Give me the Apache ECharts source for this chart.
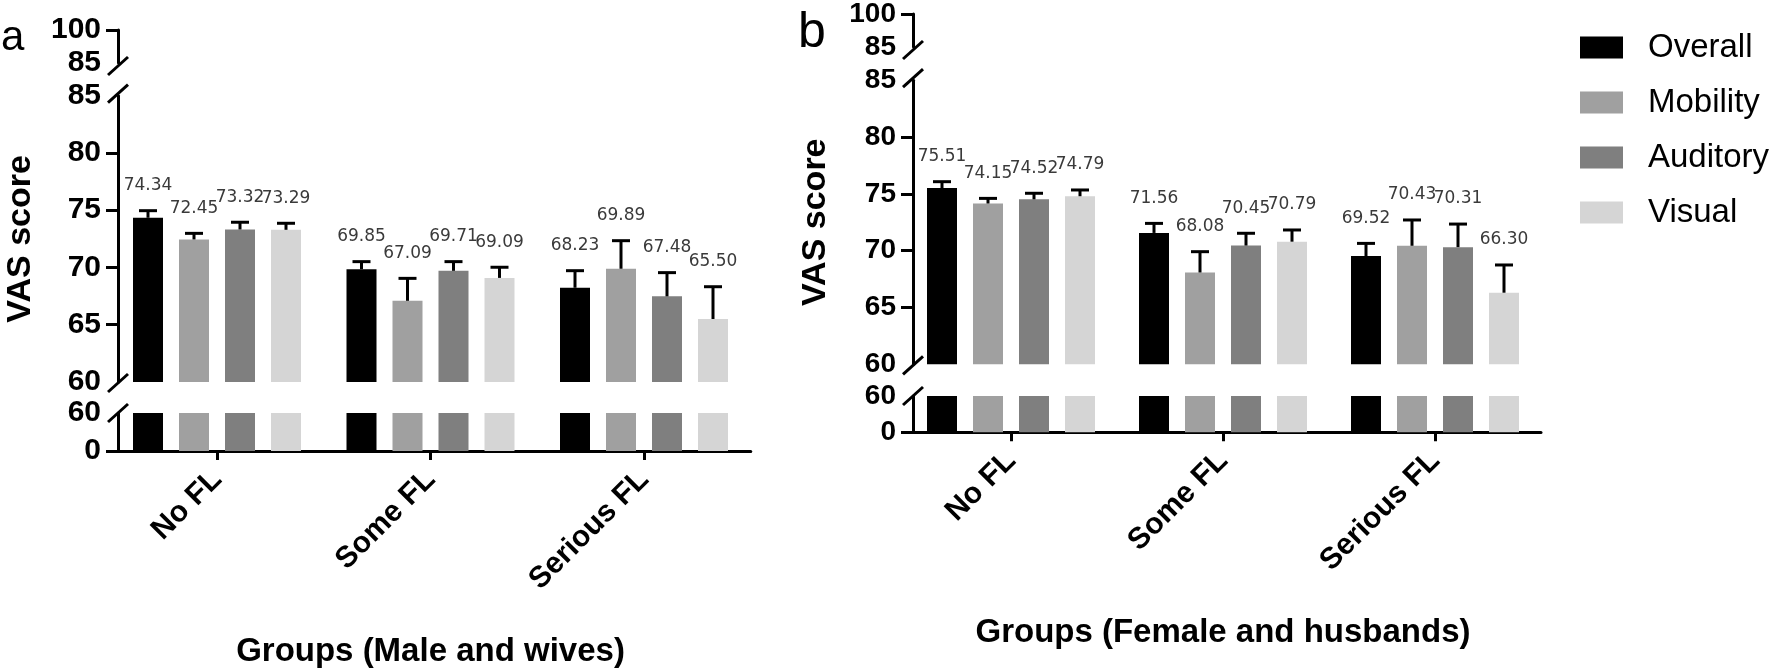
<!DOCTYPE html>
<html>
<head>
<meta charset="utf-8">
<script src="https://cdn.jsdelivr.net/npm/echarts@6/dist/echarts.min.js"></script>
<style>
  html, body { margin: 0; padding: 0; background: #fff; }
  #chart { width: 1770px; height: 671px; }
</style>
</head>
<body>
<div id="chart"></div>
<script>
// ---------------- DATA ----------------
const categories = ['No FL', 'Some FL', 'Serious FL'];
const seriesNames = ['Overall', 'Mobility', 'Auditory', 'Visual'];

// Panel a: Male and wives (means)
const maleOverall  = [74.34, 69.85, 68.23];
const maleMobility = [72.45, 67.09, 69.89];
const maleAuditory = [73.32, 69.71, 67.48];
const maleVisual   = [73.29, 69.09, 65.50];
// Panel a: error (upper bar length)
const maleOverallErr  = [0.62, 0.66, 1.49];
const maleMobilityErr = [0.53, 1.96, 2.45];
const maleAuditoryErr = [0.63, 0.80, 2.07];
const maleVisualErr   = [0.57, 0.93, 2.82];

// Panel b: Female and husbands (means)
const femaleOverall  = [75.51, 71.56, 69.52];
const femaleMobility = [74.15, 68.08, 70.43];
const femaleAuditory = [74.52, 70.45, 70.31];
const femaleVisual   = [74.79, 70.79, 66.30];
// Panel b: error
const femaleOverallErr  = [0.56, 0.84, 1.12];
const femaleMobilityErr = [0.45, 1.83, 2.27];
const femaleAuditoryErr = [0.53, 1.08, 2.03];
const femaleVisualErr   = [0.55, 1.03, 2.44];

// Tick labels of the broken axis segments
const topTickLabels = [85, 100];
const midTickLabels = [60, 65, 70, 75, 80, 85];
const botTickLabels = [0, 60];

const xTitleA = 'Groups (Male and wives)';
const xTitleB = 'Groups (Female and husbands)';
const yTitle = 'VAS score';

// ---------------- STYLE / LAYOUT ----------------
const colors = ['#000000', '#a0a0a0', '#7f7f7f', '#d5d5d5'];
const FONT = '"Liberation Sans", Arial, sans-serif';
const BAR_W = 30, BAR_GAP_PX = 16;

const panels = [
  { left: 110.25, width: 640.5, axisOffset: -7.75, tickFont: 30,
    top: [30, 33], mid: [95.7, 286.3], bot: [413, 38], title: xTitleA,
    values: [maleOverall, maleMobility, maleAuditory, maleVisual],
    errs: [maleOverallErr, maleMobilityErr, maleAuditoryErr, maleVisualErr] },
  { left: 905, width: 636, axisOffset: -8, tickFont: 28,
    top: [14, 33], mid: [80.2, 284.1], bot: [396, 36.3], title: xTitleB,
    values: [femaleOverall, femaleMobility, femaleAuditory, femaleVisual],
    errs: [femaleOverallErr, femaleMobilityErr, femaleAuditoryErr, femaleVisualErr] }
];

const grids = [], xAxes = [], yAxes = [], series = [];

function yAxisBase(p, gi, min, max, labels, ticks, interval) {
  const ax = {
    type: 'value', gridIndex: gi, min: min, max: max,
    offset: p.axisOffset,
    splitLine: { show: false },
    axisLine: { show: true, lineStyle: { color: '#000', width: 3 } },
    axisTick: { show: ticks.length > 0, length: 12, lineStyle: { color: '#000', width: 3 }, customValues: ticks },
    axisLabel: { customValues: labels, color: '#000', fontFamily: FONT, fontWeight: 'bold',
                 fontSize: p.tickFont, margin: 17 }
  };
  if (interval) ax.interval = interval;
  return ax;
}

function makeErrRender(k) {
  return function (params, api) {
    const ci = api.value(0), v = api.value(1), e = api.value(2);
    const base = api.coord([ci, v]);
    const top = api.coord([ci, v + e]);
    const x = base[0] + (k - 1.5) * (BAR_W + BAR_GAP_PX);
    return {
      type: 'group',
      children: [
        { type: 'line', shape: { x1: x, y1: base[1], x2: x, y2: top[1] },
          style: { stroke: '#000', lineWidth: 3 } },
        { type: 'line', shape: { x1: x - 9, y1: top[1], x2: x + 9, y2: top[1] },
          style: { stroke: '#000', lineWidth: 3 } },
        { type: 'text', x: x, y: top[1] - 25,
          style: { text: v.toFixed(2), fill: '#3a3a3a', fontSize: 17,
                   fontFamily: '"DejaVu Sans", sans-serif', align: 'center', verticalAlign: 'middle' } }
      ]
    };
  };
}

panels.forEach(function (p, pi) {
  const g0 = pi * 3;
  // grids: top, mid, bottom
  [p.top, p.mid, p.bot].forEach(function (tb) {
    grids.push({ left: p.left, width: p.width, top: tb[0], height: tb[1], containLabel: false });
  });
  // x axes
  for (let j = 0; j < 3; j++) {
    const isBottom = j === 2;
    xAxes.push({
      type: 'category', gridIndex: g0 + j, data: categories, show: isBottom,
      axisLine: { show: isBottom, lineStyle: { color: '#000', width: 3 } },
      axisTick: { show: isBottom, alignWithLabel: true, length: 9, lineStyle: { color: '#000', width: 3 } },
      axisLabel: { show: isBottom, rotate: 45, margin: 24, color: '#000', fontFamily: FONT,
                   fontWeight: 'bold', fontSize: 30, interval: 0 },
      name: isBottom ? p.title : '', nameLocation: 'middle', nameGap: 184,
      nameTextStyle: { color: '#000', fontFamily: FONT, fontWeight: 'bold', fontSize: 33 }
    });
  }
  // y axes
  yAxes.push(yAxisBase(p, g0, 85, 100, topTickLabels, [100], null));
  const mid = yAxisBase(p, g0 + 1, 60, 85, midTickLabels, [65, 70, 75, 80], 5);
  mid.name = yTitle; mid.nameLocation = 'middle'; mid.nameGap = 80;
  mid.nameTextStyle = { color: '#000', fontFamily: FONT, fontWeight: 'bold', fontSize: 34 };
  yAxes.push(mid);
  yAxes.push(yAxisBase(p, g0 + 2, 0, 60, botTickLabels, [0], 60));

  // series
  seriesNames.forEach(function (name, k) {
    [g0 + 1, g0 + 2].forEach(function (gi) {
      series.push({
        name: name, type: 'bar', xAxisIndex: gi, yAxisIndex: gi,
        data: p.values[k], barWidth: BAR_W, barGap: (BAR_GAP_PX / BAR_W * 100) + '%',
        itemStyle: { color: colors[k] }, silent: true, clip: true, z: 2
      });
    });
    series.push({
      name: name + ' error', type: 'custom', xAxisIndex: g0 + 1, yAxisIndex: g0 + 1,
      data: p.values[k].map(function (v, ci) { return [ci, v, p.errs[k][ci]]; }),
      renderItem: makeErrRender(k), clip: false, silent: true, z: 5
    });
  });
});

const chart = echarts.init(document.getElementById('chart'), null, { renderer: 'canvas' });
chart.setOption({
  animation: false,
  backgroundColor: '#ffffff',
  grid: grids, xAxis: xAxes, yAxis: yAxes, series: series,
  legend: {
    orient: 'vertical', left: 1575, top: 26, icon: 'rect',
    data: seriesNames, itemWidth: 43, itemHeight: 22, itemGap: 22,
    selectedMode: false,
    textStyle: { color: '#000', fontFamily: FONT, fontSize: 33, lineHeight: 33, padding: [0, 0, 0, 20] }
  }
});

// Break marks on the y axes and panel letters
const gfx = [];
function slash(x, y) {
  gfx.push({ type: 'line', shape: { x1: x - 10, y1: y + 9, x2: x + 10, y2: y - 9 },
             style: { stroke: '#000', lineWidth: 3 }, z: 10 });
}
panels.forEach(function (p, pi) {
  const ax = p.left - p.axisOffset;
  const g0 = pi * 3;
  slash(ax, chart.convertToPixel({ yAxisIndex: g0 }, 85) + 3);
  slash(ax, chart.convertToPixel({ yAxisIndex: g0 + 1 }, 85) - 2);
  slash(ax, chart.convertToPixel({ yAxisIndex: g0 + 1 }, 60) + 1);
  slash(ax, chart.convertToPixel({ yAxisIndex: g0 + 2 }, 60));
});
gfx.push({ type: 'text', left: 1, top: 17, style: { text: 'a', fontSize: 42, fontFamily: FONT, fill: '#000' } });
gfx.push({ type: 'text', left: 798, top: 8, style: { text: 'b', fontSize: 50, fontFamily: FONT, fill: '#000' } });
chart.setOption({ graphic: gfx });
</script>
</body>
</html>
